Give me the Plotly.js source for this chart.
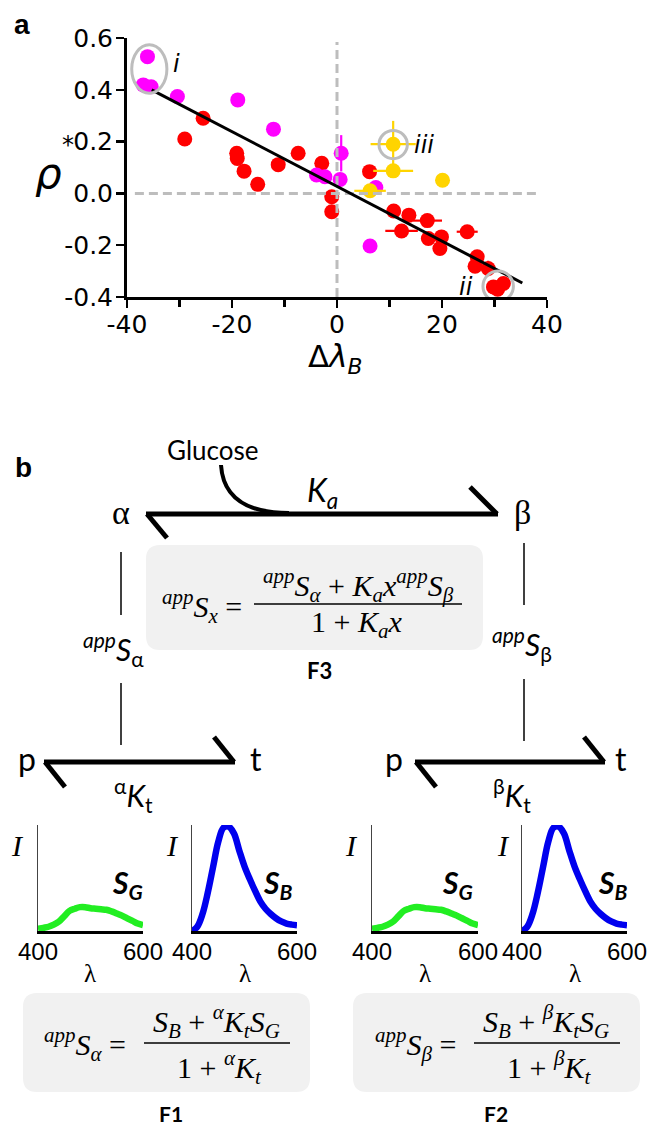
<!DOCTYPE html>
<html><head><meta charset="utf-8">
<script src="https://cdn.plot.ly/plotly-3.0.1.min.js"></script>
<style>html,body{margin:0;padding:0;background:#fff}#chart{width:654px;height:1128px}</style>
</head><body><div id="chart"></div>
<script>
// ---------- Panel a data ----------
const redX    = [-29.0,-25.5,-19.1,-19.0,-17.7,-15.1,-11.2,-7.4,-2.9,-1.0,-1.0,6.2,10.8,13.7,12.3,17.2,17.4,19.9,19.6,24.8,26.7,26.3,28.8,29.8,31.7,30.6];
const redY    = [0.21,0.29,0.155,0.135,0.086,0.035,0.111,0.155,0.116,-0.013,-0.071,0.084,-0.068,-0.084,-0.145,-0.105,-0.174,-0.168,-0.213,-0.148,-0.245,-0.281,-0.29,-0.361,-0.348,-0.37];
const redXerr = [0,0,0,0,0,0,0,0,0,0,0,0,0,0,3.1,2.8,0,0,0,2.0,0,0,0,0,0,0];
const redYerr = [0,0,0,0,0,0,0,0,0,0,0,0,0,0,0,0,0,0,0,0,0,0,0.03,0,0,0];
const magX    = [-36.1,-36.9,-35.4,-30.4,-18.9,-12.1,-3.9,-2.3,0.8,0.6,7.4,6.3];
const magY    = [0.528,0.419,0.412,0.374,0.361,0.248,0.071,0.064,0.155,0.054,0.023,-0.203];
const magYerr = [0,0,0,0,0,0,0,0,0.07,0,0,0];
const goldX    = [10.7,10.7,20.1,6.3];
const goldY    = [0.19,0.087,0.051,0.01];
const goldXerr = [4.3,3.8,0,3.0];
const goldYerr = [0.09,0.02,0,0];
const fitX = [-35.3, 35.3];
const fitY = [0.40, -0.346];
const hRefX = [-38.5, 38.1], hRefY = [0, 0];
const vRefX = [0, 0], vRefY = [-0.4, 0.585];
const xTickVals = [-40,-20,0,20,40];
const xTickText = ['-40','-20','0','20','40'];
const xMinorVals = [-30,-10,10,30];
const yTickVals = [-0.4,-0.2,0,0.2,0.4,0.6];
const yTickText = ['-0.4','-0.2','0.0','0.2','0.4','0.6'];

// ---------- Panel b spectra ----------
const wavelength = [400,410,420,430,440,450,460,470,480,490,500,510,520,530,540,550,560,570,580,590,600];
const specG = [0.02,0.03,0.04,0.06,0.09,0.14,0.19,0.21,0.225,0.225,0.215,0.21,0.205,0.20,0.185,0.165,0.145,0.12,0.095,0.07,0.055];
const specB = [0.0,0.04,0.16,0.36,0.60,0.84,0.975,0.985,0.92,0.76,0.61,0.49,0.38,0.28,0.21,0.16,0.12,0.09,0.07,0.06,0.054];
const specTickVals = [400,600];
const specTickText = ['400','600'];

const W = 654, H = 1128;
const PX = x => x / W, PY = y => 1 - y / H;
const SANS = 'Liberation Sans, Arial, sans-serif';
const SERIF = 'Liberation Serif, Times New Roman, serif';
const CAL = 'Lato, Open Sans, sans-serif';
const DJ = 'DejaVu Sans, sans-serif';

const traces = [];
function scat(x, y, ex, ey, color) {
  return {x, y, type:'scatter', mode:'markers', cliponaxis:false,
    marker:{color, size:15, line:{width:0}},
    error_x:{type:'data', array:ex, visible:true, color, thickness:2.2, width:0},
    error_y:{type:'data', array:ey, visible:true, color, thickness:2.2, width:0},
    xaxis:'x', yaxis:'y', hoverinfo:'skip'};
}
traces.push(scat(redX, redY, redXerr, redYerr, '#ff0000'));
traces.push(scat(magX, magY, magX.map(()=>0), magYerr, '#ff00ff'));
traces.push(scat(goldX, goldY, goldXerr, goldYerr, '#ffd400'));
traces.push({x:hRefX, y:hRefY, type:'scatter', mode:'lines', line:{color:'#bdbdbd', width:3, dash:'9px,5px'}, xaxis:'x', yaxis:'y', cliponaxis:false});
traces.push({x:vRefX, y:vRefY, type:'scatter', mode:'lines', line:{color:'#bdbdbd', width:3, dash:'9px,5px'}, xaxis:'x', yaxis:'y', cliponaxis:false});
traces.push({x:fitX, y:fitY, type:'scatter', mode:'lines', line:{color:'#000', width:3}, xaxis:'x', yaxis:'y', cliponaxis:false});

const specSets = [[specG,'#22ee22'],[specB,'#0000ee'],[specG,'#22ee22'],[specB,'#0000ee']];
specSets.forEach((s,i) => {
  traces.push({x:wavelength, y:s[0], type:'scatter', mode:'lines', line:{color:s[1], width:6.5, shape:'spline'},
    xaxis:'x'+(i+2), yaxis:'y'+(i+2), cliponaxis:false, hoverinfo:'skip'});
});

const layout = {
  width:W, height:H, margin:{l:0,r:0,t:0,b:0}, showlegend:false,
  paper_bgcolor:'#fff', plot_bgcolor:'rgba(0,0,0,0)',
  xaxis:{domain:[PX(127),PX(547)], range:[-40,40], anchor:'y', tickvals:xTickVals, ticktext:xTickText,
    ticks:'outside', ticklen:8, tickwidth:2.5, tickcolor:'#000', showline:true, linewidth:3, linecolor:'#000',
    showgrid:false, zeroline:false, tickfont:{family:DJ, size:25, color:'#000'}, ticklabelstandoff:-5,
    minor:{tickvals:xMinorVals, ticks:'outside', ticklen:7, tickwidth:2.5, tickcolor:'#000', showgrid:false}},
  yaxis:{domain:[PY(297),PY(38)], range:[-0.4,0.6], anchor:'x', tickvals:yTickVals, ticktext:yTickText,
    ticks:'outside', ticklen:8, tickwidth:2.5, tickcolor:'#000', showline:true, linewidth:3, linecolor:'#000',
    showgrid:false, zeroline:false, tickfont:{family:DJ, size:25, color:'#000'}, ticklabelstandoff:-2},
  shapes:[], annotations:[]
};
const specDom = [[38,143],[192,297],[372,478],[522,627]];
specDom.forEach((d,i) => {
  const n = i+2;
  layout['xaxis'+n] = {domain:[PX(d[0]),PX(d[1])], range:[400,600], anchor:'y'+n, tickvals:specTickVals, ticktext:specTickText,
    ticks:'', showline:true, linewidth:2.5, linecolor:'#000', showgrid:false, zeroline:false,
    tickfont:{family:SANS, size:24, color:'#000'}, ticklabelstandoff:-2};
  layout['yaxis'+n] = {domain:[PY(931),PY(825)], range:[0,1.0], anchor:'x'+n, showticklabels:false, ticks:'',
    showline:true, linewidth:1, linecolor:'#444', showgrid:false, zeroline:false};
});

// gray circles (data coords)
const circ = (x0,x1,y0,y1) => ({type:'circle', xref:'x', yref:'y', x0, x1, y0, y1, line:{color:'#bdbdbd', width:3}});
layout.shapes.push(circ(-39.1,-32.4,0.387,0.574));
layout.shapes.push(circ(8.0,13.4,0.134,0.243));
layout.shapes.push(circ(27.8,33.6,-0.417,-0.30));

// diagram helpers (pixel -> paper)
function L(x0,y0,x1,y1,w){ layout.shapes.push({type:'line', xref:'paper', yref:'paper', x0:PX(x0), y0:PY(y0), x1:PX(x1), y1:PY(y1), line:{color:'#000', width:w}}); }
function roundBox(x0,y0,x1,y1,r){
  const p = (x,y)=>PX(x)+','+PY(y);
  const path = 'M'+p(x0+r,y0)+' L'+p(x1-r,y0)+' Q'+p(x1,y0)+' '+p(x1,y0+r)+' L'+p(x1,y1-r)+' Q'+p(x1,y1)+' '+p(x1-r,y1)+
    ' L'+p(x0+r,y1)+' Q'+p(x0,y1)+' '+p(x0,y1-r)+' L'+p(x0,y0+r)+' Q'+p(x0,y0)+' '+p(x0+r,y0)+' Z';
  layout.shapes.push({type:'path', xref:'paper', yref:'paper', path, fillcolor:'#f1f1f1', line:{width:0}, layer:'below'});
}
function A(x,y,text,size,family,extra){
  layout.annotations.push(Object.assign({xref:'paper', yref:'paper', x:PX(x), y:PY(y), text, showarrow:false,
    xanchor:'center', yanchor:'middle', font:{size, family, color:'#000'}}, extra||{}));
}

// Panel labels
A(22,24,'<b>a</b>',28,SANS);
A(23,467,'<b>b</b>',28,SANS);
// axis titles
A(48,173,'<i>ρ</i>',42,DJ);
A(68,145,'*',24,DJ);
A(335,359,'Δ<i>λ</i><sub><i>B</i></sub>',31,DJ);
// scatter labels (data coords)
layout.annotations.push({xref:'x', yref:'y', x:-30.5, y:0.50, text:'<i>i</i>', showarrow:false, font:{size:24, family:DJ, color:'#000'}});
layout.annotations.push({xref:'x', yref:'y', x:14.2, y:0.185, text:'<i>iii</i>', showarrow:false, xanchor:'left', font:{size:24, family:DJ, color:'#000'}});
layout.annotations.push({xref:'x', yref:'y', x:24.6, y:-0.36, text:'<i>ii</i>', showarrow:false, font:{size:24, family:DJ, color:'#000'}});

// --- Top equilibrium ---
A(212,450,'Glucose',26,CAL);
A(121,512,'α',34,SERIF);
A(522,512,'β',34,SERIF);
L(146,514,498,514,5);
L(147,514,167,538,5);
L(497,514,470,487,5);
layout.shapes.push({type:'path', xref:'paper', yref:'paper',
  path:'M'+PX(221)+','+PY(465)+' C'+PX(223)+','+PY(497)+' '+PX(245)+','+PY(513)+' '+PX(289)+','+PY(513),
  line:{color:'#000', width:4}});
A(322,492,'<i>K</i><sub><i>a</i></sub>',32,CAL);

// F3 box
roundBox(146,545,483,650,14);
A(202,606,'<sup><i>app</i></sup><i>S</i><sub><i>x</i></sub> =',30,SERIF);
A(358,586,'<sup><i>app</i></sup><i>S</i><sub><i>α</i></sub> + <i>K</i><sub><i>a</i></sub><i>x</i><sup><i>app</i></sup><i>S</i><sub><i>β</i></sub>',30,SERIF);
L(254,604,462,604,1.5);
A(356,624,'1 + <i>K</i><sub><i>a</i></sub><i>x</i>',30,SERIF);
A(319,670,'<b>F3</b>',22,CAL);

// verticals
L(121,552,121,615,1.5);
L(524,543,524,605,1.5);
A(113,649,'<sup><i>app</i></sup><i>S</i><sub>α</sub>',30,CAL);
A(522,644,'<sup><i>app</i></sup><i>S</i><sub>β</sub>',30,CAL);
L(121,683,121,745,1.5);
L(524,679,524,741,1.5);

// lower equilibria
function lowerArrow(xl, xr, pX, tX, kX, sup){
  A(pX,758,'p',32,CAL);
  A(tX,758,'t',32,CAL);
  L(xl,762,xr,762,5);
  L(xl+1,762,xl+21,787,5);
  L(xr-1,762,xr-21,737,5);
  A(kX,795,'<sup>'+sup+'</sup><i>K</i><sub>t</sub>',30,CAL);
}
lowerArrow(44,235,27,256,133,'α');
lowerArrow(415,605,394,621,512,'β');

// spectra labels
[[17,'S','G',127],[172,'S','B',277],[352,'S','G',457],[503,'S','B',612]].forEach(r=>{
  A(r[0],845,'<i>I</i>',30,SERIF);
  A(r[3],884,'<b><i>'+r[1]+'</i></b><sub><b><i>'+r[2]+'</i></b></sub>',30,CAL);
});
[90,245,425,575].forEach(x=>A(x,973,'λ',25,SERIF));

// F1 / F2 boxes
function fBox(dx, g, lbl, lx){
  roundBox(23+dx,993,310+dx,1092,14);
  A(85+dx,1044,'<sup><i>app</i></sup><i>S</i><sub><i>'+g+'</i></sub> =',30,SERIF);
  A(216+dx,1021,'<i>S</i><sub><i>B</i></sub> + <sup><i>'+g+'</i></sup><i>K</i><sub><i>t</i></sub><i>S</i><sub><i>G</i></sub>',30,SERIF);
  L(144+dx,1043,290+dx,1043,1.5);
  A(219+dx,1067,'1 + <sup><i>'+g+'</i></sup><i>K</i><sub><i>t</i></sub>',30,SERIF);
  A(lx,1113,'<b>'+lbl+'</b>',21,CAL);
}
fBox(0,'α','F1',171);
fBox(330,'β','F2',496);

Plotly.newPlot('chart', traces, layout, {staticPlot:true, displayModeBar:false});
</script></body></html>
